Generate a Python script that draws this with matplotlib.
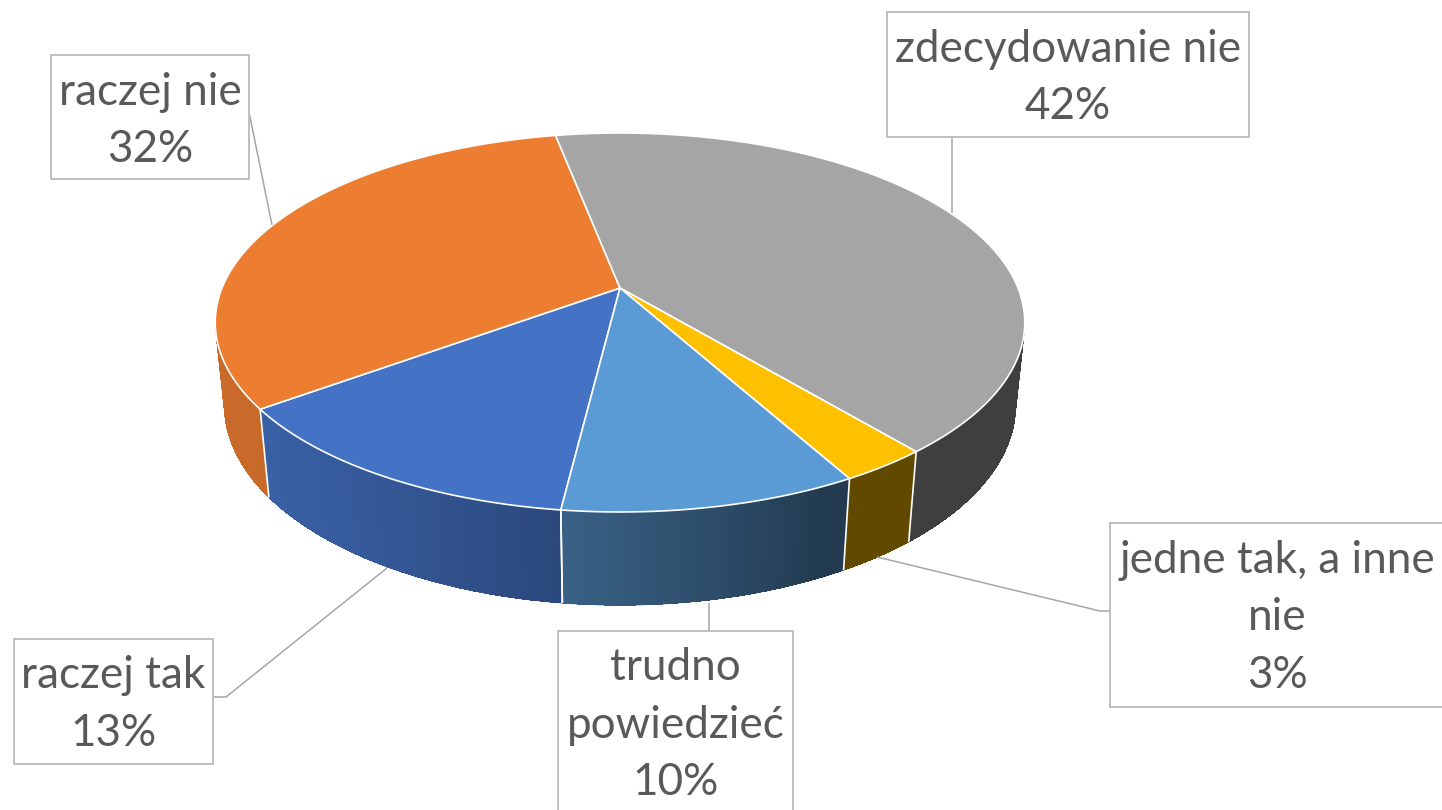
import numpy as np
import matplotlib
matplotlib.use('Agg')
import matplotlib.pyplot as plt
from matplotlib.patches import Polygon, Rectangle
from matplotlib.textpath import TextPath
from matplotlib.font_manager import FontProperties
import matplotlib.colors as mcolors

# ---------------- data ----------------
categories = ['raczej tak', 'raczej nie', 'zdecydowanie nie',
              'jedne tak, a inne nie', 'trudno powiedzieć']
values = [13, 32, 42, 3, 10]
label_wrapped = [['raczej tak'], ['raczej nie'], ['zdecydowanie nie'],
                 ['jedne tak, a inne', 'nie'], ['trudno', 'powiedzieć']]
colors = ['#4472C4', '#ED7D31', '#A5A5A5', '#FFC000', '#5B9BD5']

# ---------------- style / layout ----------------
W, H = 1442, 810
TEXT_COLOR = '#595959'
BOX_EDGE = '#BFBFBF'
LEADER = '#A6A6A6'
START_ANGLE = 263.0          # degrees, first slice start, clockwise

# perspective camera for the 3-D pie (pixel space)
CX, CY = 620.0, 288.0
SIN_PHI = 0.4603
COS_PHI = np.sqrt(1 - SIN_PHI ** 2)
D = COS_PHI / 0.18206
F = 398.0 * D
THICK = 0.2357


def proj(t_deg, y):
    t = np.radians(t_deg)
    u, v = np.cos(t), np.sin(t)
    xc = u
    yc = y * COS_PHI + v * SIN_PHI
    zc = D - y * SIN_PHI + v * COS_PHI
    return CX + F * xc / zc, CY - F * yc / zc


def shade(t_deg):
    return 0.38 + 0.47 * max(0.0, np.cos(np.radians(t_deg - 205.0)))


fig = plt.figure(figsize=(W / 100, H / 100), dpi=100)
ax = fig.add_axes([0, 0, 1, 1])
ax.set_xlim(0, W)
ax.set_ylim(H, 0)
ax.axis('off')

total = float(sum(values))
bounds = [START_ANGLE]
for v in values:
    bounds.append(bounds[-1] - 360.0 * v / total)

vis_lim = -1.0 / (D * COS_PHI)

# side walls
for i, col in enumerate(colors):
    a0, a1 = bounds[i], bounds[i + 1]
    n = max(2, int((a0 - a1) / 0.5))
    ts = np.linspace(a0, a1, n + 1)
    base = np.array(mcolors.to_rgb(col))
    vis = [t for t in ts if np.sin(np.radians(t)) < vis_lim]
    if len(vis) < 2:
        continue
    vis = np.array(vis)
    # antialiased backing polygon for smooth outer edges
    outline = [proj(t, 0) for t in vis] + [proj(t, -THICK) for t in vis[::-1]]
    mid = np.clip(base * shade(np.mean(vis) % 360), 0, 1)
    ax.add_patch(Polygon(outline, closed=True, facecolor=mid, edgecolor=mid,
                         lw=0.5, zorder=2))
    for t0, t1 in zip(vis[:-1], vis[1:]):
        tm = 0.5 * (t0 + t1)
        p = [proj(t0, 0), proj(t1, 0), proj(t1, -THICK), proj(t0, -THICK)]
        c = np.clip(base * shade(tm % 360), 0, 1)
        ax.add_patch(Polygon(p, closed=True, facecolor=c, edgecolor='none',
                             lw=0, antialiased=False, zorder=2.5))

# wall boundary lines
for b in bounds:
    if np.sin(np.radians(b)) < vis_lim:
        x0, y0 = proj(b, 0)
        x1, y1 = proj(b, -THICK)
        ax.plot([x0, x1], [y0, y1], color='white', lw=1.2, zorder=3,
                solid_capstyle='butt')

# top faces
apex = (CX, CY)
for i, col in enumerate(colors):
    a0, a1 = bounds[i], bounds[i + 1]
    ts = np.linspace(a0, a1, max(3, int((a0 - a1) * 2)))
    pts = [apex] + [proj(t, 0) for t in ts]
    ax.add_patch(Polygon(pts, closed=True, facecolor=col, edgecolor='white',
                         lw=1.2, joinstyle='round', zorder=4))

# ---------------- labels ----------------
fp = FontProperties(family='Lato')
ref_w = TextPath((0, 0), 'zdecydowanie nie', size=100, prop=fp).get_extents().width
font_px = 343.0 * 100.0 / ref_w
font_pt = font_px * 72.0 / 100.0

layout = [
    dict(box=(14, 639, 213, 764), cx=113.5, base=688, step=58,
         leader=[(213, 697), (226, 697), (387, 568)]),
    dict(box=(51, 55, 249, 179), cx=150, base=105, step=57,
         leader=[(249, 112), (272, 225)]),
    dict(box=(887, 12, 1249, 137), cx=1068, base=62, step=57,
         leader=[(952, 137), (952, 213)]),
    dict(box=(1110, 523, 1448, 707), cx=1277, base=573, step=57.5,
         leader=[(1110, 611), (1100, 611), (877, 557)]),
    dict(box=(558, 631, 793, 820), cx=675.5, base=680, step=57.5,
         leader=[(709, 631), (709, 603)]),
]

for i, lay in enumerate(layout):
    xs, ys = zip(*lay['leader'])
    ax.plot(xs, ys, color=LEADER, lw=1.1, zorder=5, solid_capstyle='butt')
    x0, y0, x1, y1 = lay['box']
    ax.add_patch(Rectangle((x0, y0), x1 - x0, y1 - y0, facecolor='white',
                           edgecolor=BOX_EDGE, lw=1.4, zorder=6))
    lines = label_wrapped[i] + [f'{values[i]}%']
    for j, s in enumerate(lines):
        ax.text(lay['cx'], lay['base'] + j * lay['step'], s, fontproperties=fp,
                fontsize=font_pt, color=TEXT_COLOR, ha='center', va='baseline',
                zorder=7)

fig.savefig('out.png', dpi=100, facecolor='white')
